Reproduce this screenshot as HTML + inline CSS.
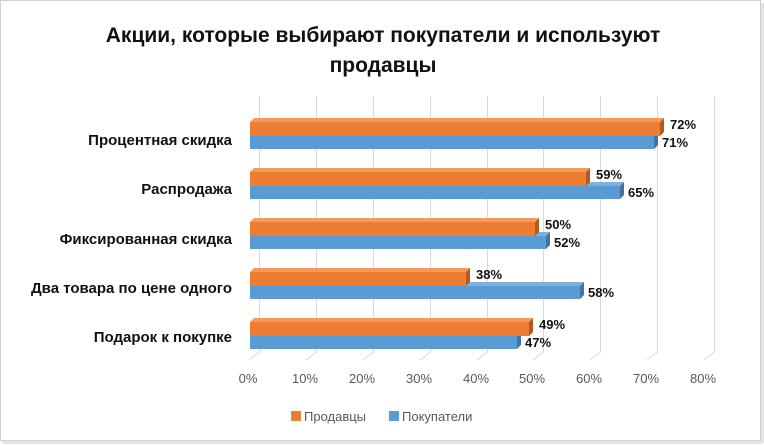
<!DOCTYPE html>
<html><head><meta charset="utf-8"><style>
body{margin:0;background:#fff}
svg{display:block}
text{font-family:"Liberation Sans",sans-serif}
</style></head><body>
<svg width="764" height="446" viewBox="0 0 764 446" xmlns="http://www.w3.org/2000/svg">
<rect x="0.5" y="0.5" width="760" height="440" fill="#fff" stroke="#d0d0d0"/>
<rect x="2" y="441" width="760" height="3" fill="#e4e4e4"/>
<rect x="761" y="3" width="3" height="440" fill="#e4e4e4"/>
<text x="383" y="42" text-anchor="middle" font-size="21" font-weight="bold" fill="#111">Акции, которые выбирают покупатели и используют</text>
<text x="383" y="72" text-anchor="middle" font-size="21" font-weight="bold" fill="#111">продавцы</text>
<g stroke="#d9d9d9" stroke-width="1" fill="none">
<path d="M259.5 96V352L249 360"/>
<path d="M316.5 96V352L306 360"/>
<path d="M373.5 96V352L363 360"/>
<path d="M430.5 96V352L420 360"/>
<path d="M487.5 96V352L477 360"/>
<path d="M543.5 96V352L533 360"/>
<path d="M600.5 96V352L590 360"/>
<path d="M657.5 96V352L647 360"/>
<path d="M714.5 96V352L704 360"/>
</g>
<g font-size="13" fill="#595959" text-anchor="middle">
<text x="248" y="383">0%</text><text x="305" y="383">10%</text><text x="362" y="383">20%</text><text x="419" y="383">30%</text><text x="476" y="383">40%</text><text x="532" y="383">50%</text><text x="589" y="383">60%</text><text x="646" y="383">70%</text><text x="703" y="383">80%</text>
</g>
<g font-size="15" font-weight="bold" fill="#111" text-anchor="end">
<text x="232" y="145">Процентная скидка</text>
<text x="232" y="194">Распродажа</text>
<text x="232" y="244">Фиксированная скидка</text>
<text x="232" y="293">Два товара по цене одного</text>
<text x="232" y="342">Подарок к покупке</text>
</g>
<!-- cat 1 -->
<polygon points="250,136 254,132 658,132 654,136" fill="#7fb0de"/>
<polygon points="654,136 658,132 658,145 654,149" fill="#3f74a6"/>
<rect x="250" y="136" width="404" height="13" fill="#5b9bd5"/>
<polygon points="250,122 254,118 664,118 660,122" fill="#f09a5c"/>
<polygon points="660,122 664,118 664,132 660,136" fill="#b35a1f"/>
<rect x="250" y="122" width="410" height="14" fill="#ed7d31"/>
<!-- cat 2 -->
<polygon points="250,186 254,182 624,182 620,186" fill="#7fb0de"/>
<polygon points="620,186 624,182 624,195 620,199" fill="#3f74a6"/>
<rect x="250" y="186" width="370" height="13" fill="#5b9bd5"/>
<polygon points="250,172 254,168 590,168 586,172" fill="#f09a5c"/>
<polygon points="586,172 590,168 590,182 586,186" fill="#b35a1f"/>
<rect x="250" y="172" width="336" height="14" fill="#ed7d31"/>
<!-- cat 3 -->
<polygon points="250,236 254,232 550,232 546,236" fill="#7fb0de"/>
<polygon points="546,236 550,232 550,245 546,249" fill="#3f74a6"/>
<rect x="250" y="236" width="296" height="13" fill="#5b9bd5"/>
<polygon points="250,222 254,218 539,218 535,222" fill="#f09a5c"/>
<polygon points="535,222 539,218 539,232 535,236" fill="#b35a1f"/>
<rect x="250" y="222" width="285" height="14" fill="#ed7d31"/>
<!-- cat 4 -->
<polygon points="250,286 254,282 584,282 580,286" fill="#7fb0de"/>
<polygon points="580,286 584,282 584,295 580,299" fill="#3f74a6"/>
<rect x="250" y="286" width="330" height="13" fill="#5b9bd5"/>
<polygon points="250,272 254,268 470,268 466,272" fill="#f09a5c"/>
<polygon points="466,272 470,268 470,282 466,286" fill="#b35a1f"/>
<rect x="250" y="272" width="216" height="14" fill="#ed7d31"/>
<!-- cat 5 -->
<polygon points="250,336 254,332 521,332 517,336" fill="#7fb0de"/>
<polygon points="517,336 521,332 521,345 517,349" fill="#3f74a6"/>
<rect x="250" y="336" width="267" height="13" fill="#5b9bd5"/>
<polygon points="250,322 254,318 533,318 529,322" fill="#f09a5c"/>
<polygon points="529,322 533,318 533,332 529,336" fill="#b35a1f"/>
<rect x="250" y="322" width="279" height="14" fill="#ed7d31"/>
<g font-size="13" font-weight="bold" fill="#111">
<text x="670" y="129">72%</text><text x="662" y="147">71%</text>
<text x="596" y="179">59%</text><text x="628" y="197">65%</text>
<text x="545" y="229">50%</text><text x="554" y="247">52%</text>
<text x="476" y="279">38%</text><text x="588" y="297">58%</text>
<text x="539" y="329">49%</text><text x="525" y="347">47%</text>
</g>
<rect x="291" y="411" width="10" height="10" fill="#ed7d31"/>
<text x="304" y="421" font-size="13" fill="#595959">Продавцы</text>
<rect x="389" y="411" width="10" height="10" fill="#5b9bd5"/>
<text x="402" y="421" font-size="13" fill="#595959">Покупатели</text>
</svg>
</body></html>
